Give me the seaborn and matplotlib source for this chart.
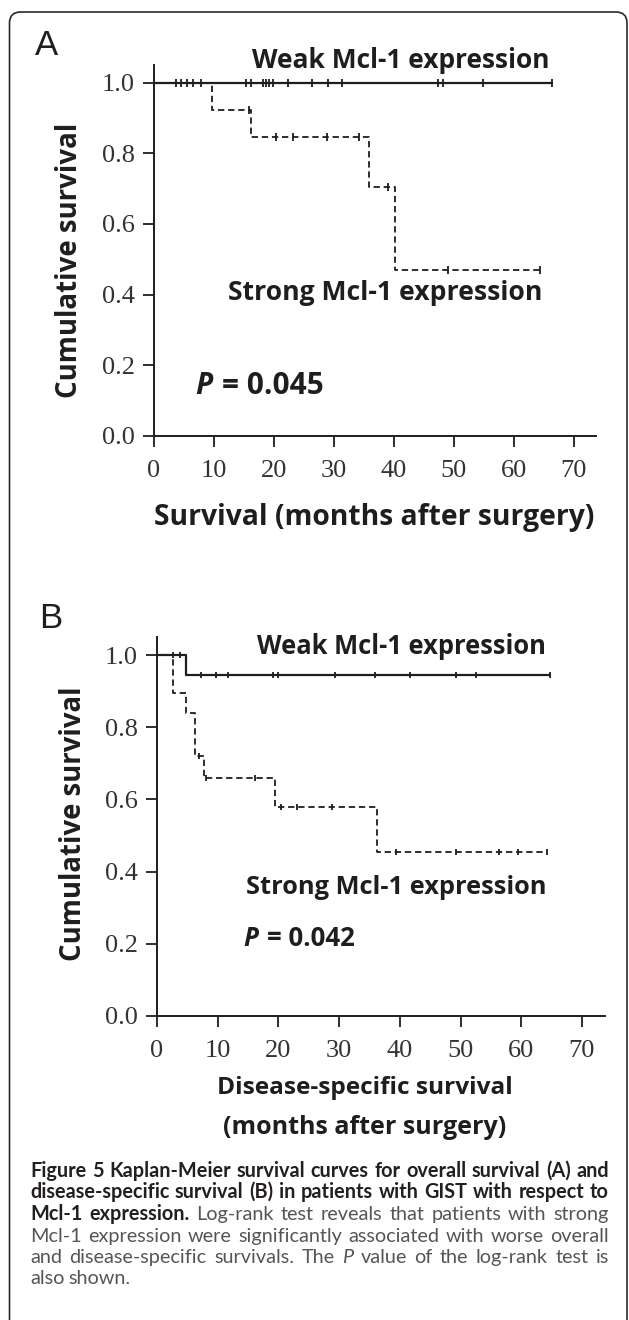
import seaborn as sns
import matplotlib.pyplot as plt
from matplotlib.patches import FancyBboxPatch

# Panel A - overall survival (months, cumulative survival)
a_weak_time = [0, 66.3]
a_weak_surv = [1.0, 1.0]
a_weak_cens_t = [3.7, 4.5, 5.5, 6.5, 7.8, 15.3, 16.1, 18.1, 18.6, 19.1, 19.8,
                 22.3, 26.3, 29.0, 31.3, 47.4, 48.2, 54.9, 66.3]
a_weak_cens_s = [1.0] * len(a_weak_cens_t)
a_strong_time = [0, 9.6, 16.1, 35.8, 40.2, 64.3]
a_strong_surv = [1.0, 0.923, 0.846, 0.705, 0.47, 0.47]
a_strong_cens_t = [15.9, 20.3, 23.1, 28.8, 34.2, 39.0, 49.1, 64.3]
a_strong_cens_s = [0.923, 0.846, 0.846, 0.846, 0.846, 0.705, 0.47, 0.47]

# Panel B - disease-specific survival
b_weak_time = [0, 4.7, 64.7]
b_weak_surv = [1.0, 0.945, 0.945]
b_weak_cens_t = [2.6, 3.8, 7.2, 9.8, 11.7, 19.1, 19.9, 29.3, 35.9, 41.7, 49.3, 52.6, 64.7]
b_weak_cens_s = [1.0, 1.0] + [0.945] * 11
b_strong_time = [0, 2.6, 4.7, 6.3, 7.7, 19.4, 36.2, 64.3]
b_strong_surv = [1.0, 0.895, 0.84, 0.72, 0.66, 0.58, 0.455, 0.455]
b_strong_cens_t = [7.0, 8.0, 16.1, 20.4, 23.0, 28.9, 39.4, 49.3, 56.4, 59.4, 64.3]
b_strong_cens_s = [0.72, 0.66, 0.66, 0.58, 0.58, 0.58, 0.455, 0.455, 0.455, 0.455, 0.455]

x_ticks = [0, 10, 20, 30, 40, 50, 60, 70]
y_ticks = [0.0, 0.2, 0.4, 0.6, 0.8, 1.0]

p_values = ["0.045", "0.042"]

caption_lines = [
    [("Figure 5 Kaplan-Meier survival curves for overall survival (A) and", "b")],
    [("disease-specific survival (B) in patients with GIST with respect to", "b")],
    [("Mcl-1 expression.", "b"), ("Log-rank test reveals that patients with strong", "n")],
    [("Mcl-1 expression were significantly associated with worse overall", "n")],
    [("and disease-specific survivals. The", "n"), ("P", "i"),
     ("value of the log-rank test is", "n")],
    [("also shown.", "n")],
]

W, H = 629, 1320
SANS = "Open Sans"
INK = "#1e1e1e"

sns.set_style("ticks")
plt.rcParams["font.family"] = ["Liberation Serif", "DejaVu Serif"]

fig = plt.figure(figsize=(W / 100, H / 100), dpi=100)
renderer = fig.canvas.get_renderer()

# background axes in pixel units for frame, labels and caption
bg = fig.add_axes([0, 0, 1, 1], zorder=-1)
bg.set_xlim(0, W)
bg.set_ylim(H, 0)
bg.axis("off")
bg.add_patch(FancyBboxPatch((9.5, 12), 617.5, 1340, boxstyle="round,pad=0,rounding_size=11",
                            fill=False, lw=1.2, ec="#2a2a2a"))


def km_panel(rect, xmax, weak_t, weak_s, wc_t, wc_s, strong_t, strong_s, sc_t, sc_s, msize):
    ax = fig.add_axes([rect[0] / W, 1 - rect[3] / H, (rect[2] - rect[0]) / W, (rect[3] - rect[1]) / H])
    sns.lineplot(x=weak_t, y=weak_s, drawstyle="steps-post", color=INK, lw=1.6, ax=ax)
    sns.lineplot(x=strong_t, y=strong_s, drawstyle="steps-post", color=INK, lw=1.3,
                 linestyle=(0, (3.5, 2.1)), ax=ax)
    sns.scatterplot(x=wc_t, y=wc_s, marker="|", s=msize, color=INK, linewidth=1.3, ax=ax, zorder=3)
    sns.scatterplot(x=sc_t, y=sc_s, marker="|", s=msize, color=INK, linewidth=1.3, ax=ax, zorder=3)
    ax.set_xlim(0, xmax)
    ax.set_ylim(0, 1.05)
    ax.set_xticks(x_ticks)
    ax.set_yticks(y_ticks)
    ax.set_yticklabels([f"{v:.1f}" for v in y_ticks])
    ax.tick_params(axis="both", direction="out", length=8, width=1.3, colors=INK, labelsize=19)
    ax.tick_params(axis="y", pad=6)
    ax.tick_params(axis="x", pad=9)
    for lbl in ax.get_xticklabels() + ax.get_yticklabels():
        lbl.set_color("#333333")
    sns.despine(ax=ax)
    for sp in ("left", "bottom"):
        ax.spines[sp].set_linewidth(1.4)
        ax.spines[sp].set_color(INK)
    ax.set_xlabel("")
    ax.set_ylabel("")
    ax.patch.set_alpha(0)
    return ax


ax_a = km_panel((154, 65, 596, 436), 73.7, a_weak_time, a_weak_surv, a_weak_cens_t, a_weak_cens_s,
                a_strong_time, a_strong_surv, a_strong_cens_t, a_strong_cens_s, 40)
ax_b = km_panel((157, 637, 605, 1016), 73.8, b_weak_time, b_weak_surv, b_weak_cens_t, b_weak_cens_s,
                b_strong_time, b_strong_surv, b_strong_cens_t, b_strong_cens_s, 22)

lab = dict(family=SANS, fontweight="bold", fontsize=17, color=INK)


def fitted(x, y, s, width, rotation=0, ha="center"):
    # scale a label so that it spans the same length as in the reference
    t = bg.text(x, y, s, rotation=rotation, ha=ha, va="center", **lab)
    ext = t.get_window_extent(renderer)
    size = ext.height if rotation else ext.width
    t.set_fontsize(t.get_fontsize() * width / size)
    return t


def p_label(x, y, value, width):
    p = bg.text(x, y, "P", ha="left", va="center", style="italic", **lab)
    rest = bg.text(x, y, "= " + value, ha="left", va="center", **lab)
    gap = 8
    total = p.get_window_extent(renderer).width + rest.get_window_extent(renderer).width + gap
    k = width / total
    for t in (p, rest):
        t.set_fontsize(t.get_fontsize() * k)
    rest.set_x(x + p.get_window_extent(renderer).width + gap * k)


# panel A
fitted(550, 60, "Weak Mcl-1 expression", 299, ha="right")
fitted(542, 293, "Strong Mcl-1 expression", 314, ha="right")
p_label(195, 386, p_values[0], 129)
fitted(70, 260, "Cumulative survival", 276, rotation=90)
fitted(374, 517, "Survival (months after surgery)", 440)

# panel B
fitted(546, 646, "Weak Mcl-1 expression", 289, ha="right")
fitted(546, 887, "Strong Mcl-1 expression", 301, ha="right")
p_label(243, 939, p_values[1], 112)
fitted(74, 824, "Cumulative survival", 275, rotation=90)
fitted(365, 1088, "Disease-specific survival", 296)
fitted(365, 1127, "(months after surgery)", 283)

bg.text(35, 55, "A", fontsize=25, family="Liberation Sans", color=INK, va="baseline")
bg.text(39, 628, "B", fontsize=25, family="Liberation Sans", color=INK, va="baseline")

# caption, justified word by word
cap_style = {
    "b": dict(fontweight="bold", color="#231f20"),
    "n": dict(fontweight="normal", color="#555555"),
    "i": dict(fontweight="normal", style="italic", color="#555555"),
}
x0, x1 = 30, 609
probe = bg.text(0, 0, caption_lines[0][0][0], fontsize=10, family="Lato", fontweight="bold")
cap_size = 10 * (x1 - x0) / probe.get_window_extent(renderer).width * 0.99
probe.remove()
base_y = [1177, 1198, 1220, 1242, 1263, 1284]
for i, line in enumerate(caption_lines):
    words = []
    for chunk, st in line:
        for w in chunk.split(" "):
            t = bg.text(0, base_y[i], w, fontsize=cap_size, family="Lato", va="baseline", **cap_style[st])
            words.append(t)
    widths = [t.get_window_extent(renderer).width for t in words]
    if i < len(caption_lines) - 1:
        gap = (x1 - x0 - sum(widths)) / (len(words) - 1)
    else:
        gap = cap_size * 0.3
    x = x0
    for t, w in zip(words, widths):
        t.set_x(x)
        x += w + gap

fig.savefig("out.png", dpi=100)
